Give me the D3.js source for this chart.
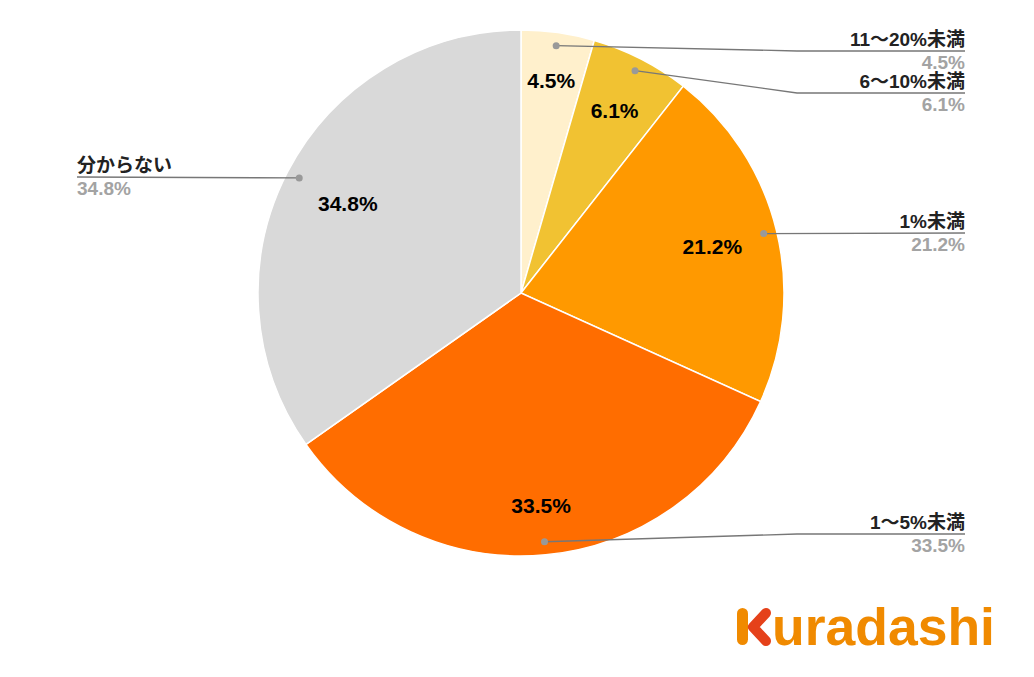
<!DOCTYPE html>
<html>
<head>
<meta charset="utf-8">
<script src="https://cdn.jsdelivr.net/npm/d3@7"></script>
<style>
  body { margin: 0; background: #fff; }
  text { font-family: "Liberation Sans", Arial, "Noto Sans CJK JP", sans-serif; font-weight: bold; }
</style>
</head>
<body>
<div class="pie"></div>
<script>
// chart data
var categories = ["11〜20%未満", "6〜10%未満", "1%未満", "1〜5%未満", "分からない"];
var values = [4.5, 6.1, 21.2, 33.5, 34.8];
var colors = ["#FFF0CC", "#F1C232", "#FF9900", "#FF6D00", "#D9D9D9"];

// label layout (y of each leader line, side of the label, inner label distance)
var labelY = [51, 93, 233, 534, 177];
var labelSide = ["right", "right", "right", "right", "left"];
var innerR = [0.818, 0.78, 0.749, 0.813, 0.742];

var svgWidth = 1034;
var svgHeight = 677;
var cx = 521, cy = 293, radius = 263;

var svg = d3.select(".pie")
    .append("svg")
    .attr("width", svgWidth)
    .attr("height", svgHeight);

var chartGroup = svg.append("g")
    .attr("transform", `translate(${cx}, ${cy})`);

var pie = d3.pie().sort(null).value(d => d.value);
var data = categories.map((c, i) => ({ name: c, value: values[i], color: colors[i], i: i }));
var arcs = pie(data);

var arc = d3.arc().innerRadius(0).outerRadius(radius);
var dotArc = d3.arc().innerRadius(radius * 0.95).outerRadius(radius * 0.95);

// slices
chartGroup.selectAll("path.slice")
    .data(arcs)
    .enter()
    .append("path")
    .attr("class", "slice")
    .attr("d", arc)
    .attr("fill", d => d.data.color)
    .attr("stroke", "#fff")
    .attr("stroke-width", 1.5);

// inner percentage labels
chartGroup.selectAll("text.inner")
    .data(arcs)
    .enter()
    .append("text")
    .attr("class", "inner")
    .attr("transform", function(d) {
        var r = radius * innerR[d.data.i];
        return `translate(${d3.arc().innerRadius(r).outerRadius(r).centroid(d)})`;
    })
    .attr("text-anchor", "middle")
    .attr("dy", "0.36em")
    .attr("font-size", 21)
    .attr("fill", "#000")
    .text(d => d.data.value.toFixed(1) + "%");

// leader lines and outside labels
var rightX = 965 - cx, leftX = 77 - cx, elbowX = 797 - cx;

arcs.forEach(function(d) {
    var p = dotArc.centroid(d);
    var i = d.data.i;
    var ly = labelY[i] - cy;
    var pts;
    if (labelSide[i] === "left") {
        pts = [p, [leftX, ly]];
    } else if (Math.abs(p[1] - ly) < 3) {
        pts = [p, [rightX, ly]];
    } else {
        pts = [p, [elbowX, ly], [rightX, ly]];
    }
    chartGroup.append("path")
        .attr("d", d3.line()(pts))
        .attr("fill", "none")
        .attr("stroke", "#777")
        .attr("stroke-width", 1.3);
    chartGroup.append("circle")
        .attr("cx", p[0]).attr("cy", p[1])
        .attr("r", 3.5)
        .attr("fill", "#999");

    var tx = labelSide[i] === "left" ? leftX : rightX;
    var anchor = labelSide[i] === "left" ? "start" : "end";
    chartGroup.append("text")
        .attr("x", tx).attr("y", ly - 5)
        .attr("text-anchor", anchor)
        .attr("font-size", 19)
        .attr("fill", "#222")
        .text(d.data.name);
    chartGroup.append("text")
        .attr("x", tx).attr("y", ly + 18)
        .attr("text-anchor", anchor)
        .attr("font-size", 19)
        .attr("fill", "#a3a3a3")
        .text(d.data.value.toFixed(1) + "%");
});

// logo
var logo = svg.append("g");
logo.append("rect")
    .attr("x", 737).attr("y", 608)
    .attr("width", 11).attr("height", 37)
    .attr("rx", 5.5)
    .attr("fill", "#F08A00");
logo.append("path")
    .attr("d", "M766,613 L753,627 L766,641")
    .attr("fill", "none")
    .attr("stroke", "#E5411A")
    .attr("stroke-width", 10)
    .attr("stroke-linecap", "round")
    .attr("stroke-linejoin", "round");
logo.append("text")
    .attr("x", 772).attr("y", 645)
    .attr("font-size", 51)
    .attr("font-family", "Lato, 'Open Sans', sans-serif")
    .attr("font-weight", 900)
    .attr("textLength", 223)
    .attr("lengthAdjust", "spacingAndGlyphs")
    .attr("fill", "#F08A00")
    .text("uradashi");
</script>
</body>
</html>
